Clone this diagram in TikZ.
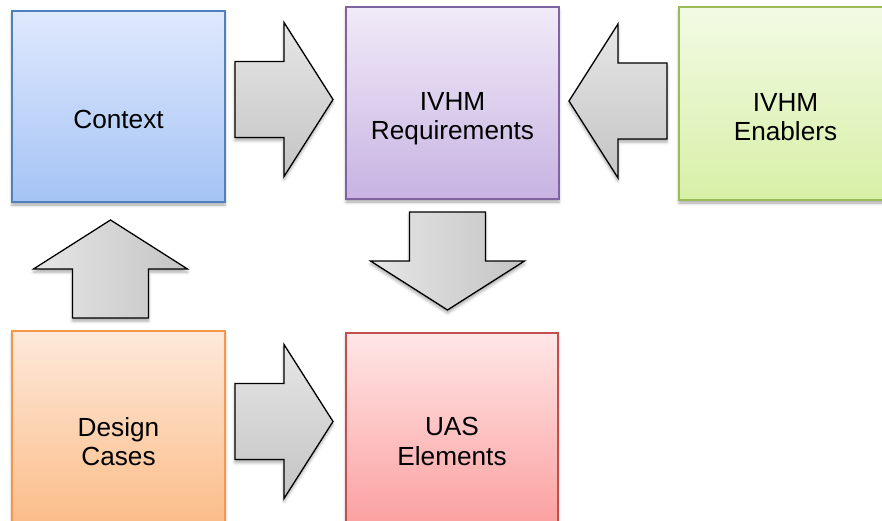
\documentclass[tikz,border=0pt]{standalone}
\usepackage{fontspec}
\setmainfont{Liberation Sans}
\usetikzlibrary{shadows,shadows.blur}

\definecolor{ctxtop}{HTML}{DFE9FD}
\definecolor{ctxbot}{HTML}{A5C3F5}
\definecolor{ctxline}{HTML}{4F81BD}
\definecolor{reqtop}{HTML}{F1EBF8}
\definecolor{reqbot}{HTML}{C8B3E2}
\definecolor{reqline}{HTML}{8064A2}
\definecolor{enatop}{HTML}{F3FAE5}
\definecolor{enabot}{HTML}{D7F0A6}
\definecolor{enaline}{HTML}{9BBB59}
\definecolor{destop}{HTML}{FDE9DA}
\definecolor{desbot}{HTML}{FBBD89}
\definecolor{desline}{HTML}{F79646}
\definecolor{uastop}{HTML}{FFE6E6}
\definecolor{uasbot}{HTML}{FBA0A0}
\definecolor{uasline}{HTML}{C0504D}
\definecolor{arrlight}{HTML}{E6E6E6}
\definecolor{arrdark}{HTML}{C4C4C4}

\tikzset{
  box/.style={draw, line width=1.3pt, minimum width=213pt, minimum height=192pt,
    inner sep=0pt, blur shadow={shadow xshift=0pt, shadow yshift=-3pt,
    shadow blur radius=3pt, shadow opacity=35}},
  lbl/.style={inner sep=0pt, align=center, anchor=north,
    font=\fontsize{26.2}{29.6}\selectfont},
  arrowbody/.style={draw=black, line width=1.3pt, line join=miter,
    blur shadow={shadow xshift=0pt, shadow yshift=-3pt,
    shadow blur radius=3pt, shadow opacity=35}},
  harrow/.style={arrowbody, top color=arrlight, bottom color=arrdark},
  varrow/.style={arrowbody, left color=arrlight, right color=arrdark}
}

% block arrow: tail centre at #2, pointing along angle #3
\newcommand\blockarrow[3]{%
  \path[#1, shift={#2}, rotate=#3]
    (0,-38) -- (49,-38) -- (49,-77) -- (98,0) -- (49,77) -- (49,38) -- (0,38) -- cycle;}

\begin{document}
\begin{tikzpicture}[x=1pt, y=-1pt]
  \useasboundingbox (0,0) rectangle (882,521);
  \clip (0,0) rectangle (882,521);

  % boxes
  \node[box, draw=ctxline, top color=ctxtop, bottom color=ctxbot,
        minimum height=191pt] (ctx) at (118.5,106.5) {};
  \node[box, draw=reqline, top color=reqtop, bottom color=reqbot] (req) at (452.5,103) {};
  \node[box, draw=enaline, top color=enatop, bottom color=enabot,
        minimum height=193pt] (ena) at (785.5,103.5) {};
  \node[box, draw=desline, top color=destop, bottom color=desbot] (des) at (118.5,427) {};
  \node[box, draw=uasline, top color=uastop, bottom color=uasbot,
        minimum width=212pt] (uas) at (452,429) {};

  % labels
  \node[lbl] (ctxt) at (118.5,110) {Context};
  \node[lbl] (reqt) at (452.5,92) {IVHM\\Requirements};
  \node[lbl] (enat) at (785.5,93) {IVHM\\Enablers};
  \node[lbl] (dest) at (118.5,417) {Design\\Cases};
  \node[lbl] (uast) at (452,417) {UAS\\Elements};

  % block arrows between the boxes
  \blockarrow{harrow}{(235,99.5)}{0}
  \blockarrow{harrow}{(667,101)}{180}
  \blockarrow{varrow}{(110.5,318)}{90}
  \blockarrow{varrow}{(447.5,212)}{-90}
  \blockarrow{harrow}{(235,421.5)}{0}
\end{tikzpicture}
\end{document}
